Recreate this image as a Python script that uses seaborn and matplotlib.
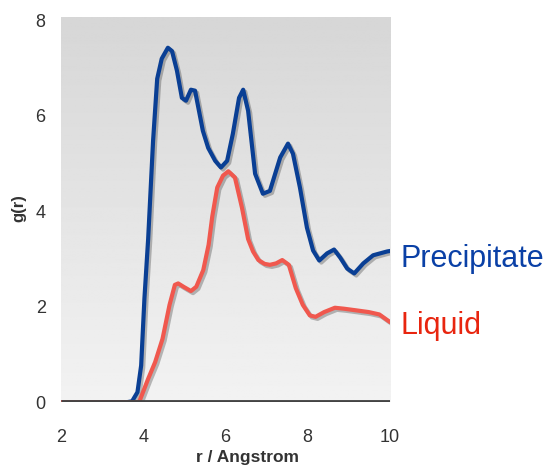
import numpy as np
import pandas as pd
import matplotlib.pyplot as plt
import matplotlib.patheffects as pe
import seaborn as sns

# radial distribution data
r_prec = [2.0, 3.6, 3.73, 3.86, 3.95, 4.03, 4.12, 4.24, 4.34, 4.45, 4.6, 4.7, 4.82, 4.94,
          5.04, 5.16, 5.26, 5.45, 5.58, 5.75, 5.89, 6.04, 6.18, 6.33, 6.43, 6.55, 6.72,
          6.91, 7.08, 7.33, 7.52, 7.64, 7.81, 7.98, 8.13, 8.28, 8.47, 8.64, 8.79, 8.96,
          9.13, 9.35, 9.59, 9.93, 10.0]
g_prec = [0, 0, 0.02, 0.21, 0.77, 2.18, 3.42, 5.48, 6.78, 7.2, 7.43, 7.36, 6.95, 6.38,
          6.32, 6.55, 6.53, 5.69, 5.33, 5.06, 4.92, 5.06, 5.63, 6.38, 6.55, 6.11, 4.79,
          4.37, 4.43, 5.13, 5.42, 5.21, 4.5, 3.66, 3.18, 2.97, 3.12, 3.2, 3.03, 2.8,
          2.7, 2.91, 3.08, 3.16, 3.17]

r_liq = [2.0, 3.9, 4.12, 4.29, 4.47, 4.64, 4.77, 4.85, 4.98, 5.16, 5.29, 5.46, 5.59, 5.68,
         5.8, 5.94, 6.07, 6.23, 6.4, 6.55, 6.67, 6.8, 6.95, 7.08, 7.23, 7.38, 7.54, 7.71,
         7.88, 8.05, 8.19, 8.4, 8.66, 8.88, 9.14, 9.48, 9.74, 10.0]
g_liq = [0, 0, 0.49, 0.84, 1.33, 2.04, 2.46, 2.49, 2.42, 2.33, 2.42, 2.77, 3.3, 3.9,
         4.5, 4.75, 4.84, 4.71, 4.08, 3.42, 3.16, 2.98, 2.9, 2.88, 2.91, 2.98, 2.88, 2.39,
         2.04, 1.82, 1.79, 1.89, 1.98, 1.96, 1.93, 1.89, 1.84, 1.68]

series_names = ["Precipitate", "Liquid"]
line_colors = ["#0a3f94", "#f0584e"]
text_colors = ["#0a40a6", "#e8250f"]

df = pd.concat([
    pd.DataFrame({"r": r_prec, "g": g_prec, "phase": series_names[0]}),
    pd.DataFrame({"r": r_liq, "g": g_liq, "phase": series_names[1]}),
])

sns.set_style("white")
plt.rcParams["font.family"] = ["Liberation Sans", "DejaVu Sans"]

fig = plt.figure(figsize=(5.54, 4.65), dpi=100)
ax = fig.add_axes([0.110, 0.135, 0.594, 0.828])

# gradient background
grad = np.linspace(0.95, 0.84, 256).reshape(-1, 1)
ax.imshow(grad, cmap="gray", vmin=0, vmax=1, origin="lower", aspect="auto",
          extent=[2, 10, 0, 8.07], zorder=0)

shadow = [pe.SimpleLineShadow(offset=(1.5, -1.5), alpha=0.25, shadow_color="black"),
          pe.Normal()]
sns.lineplot(data=df, x="r", y="g", hue="phase", palette=dict(zip(series_names, line_colors)),
             sort=False, lw=3, legend=False, ax=ax, zorder=3, path_effects=shadow)

ax.axhline(0, color="#444444", lw=3.5, zorder=4, solid_capstyle="butt")

ax.set_xlim(2, 10)
ax.set_ylim(0, 8.07)
ax.set_xticks([2, 4, 6, 8, 10])
ax.set_yticks([0, 2, 4, 6, 8])
ax.tick_params(axis="x", length=0, pad=19, labelsize=13, labelcolor="#333333")
ax.tick_params(axis="y", length=0, pad=11, labelsize=13, labelcolor="#333333")
for s in ax.spines.values():
    s.set_visible(False)

ax.set_xlabel("r / Angstrom", fontsize=12.5, fontweight="bold", color="#333333")
ax.set_ylabel("g(r)", fontsize=12, fontweight="bold", color="#333333")
ax.xaxis.set_label_coords(0.568, -0.123)
ax.yaxis.set_label_coords(-0.105, 0.505)

ax.text(10.25, 3.0, series_names[0], fontsize=22, color=text_colors[0],
        va="center", ha="left", clip_on=False)
ax.text(10.25, 1.6, series_names[1], fontsize=22, color=text_colors[1],
        va="center", ha="left", clip_on=False)

fig.savefig("out.png", dpi=100)
